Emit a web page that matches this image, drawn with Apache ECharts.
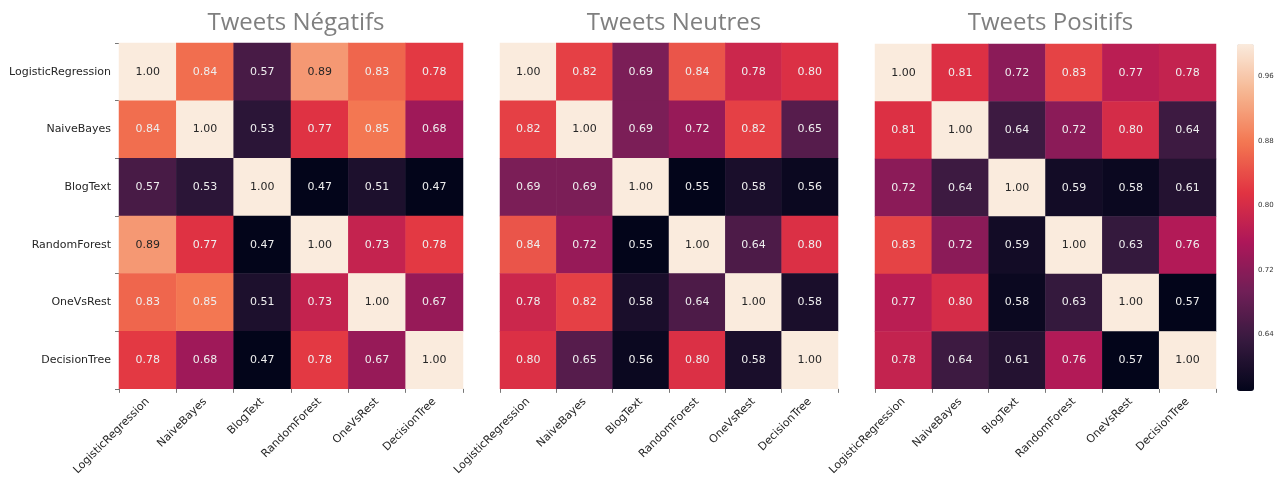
<!DOCTYPE html>
<html>
<head>
<meta charset="utf-8">
<script src="https://cdn.jsdelivr.net/npm/echarts@6/dist/echarts.min.js"></script>
<style>
  html, body { margin: 0; padding: 0; background: #fff; }
  #chart { width: 1277px; height: 478px; }
</style>
</head>
<body>
<div id="chart"></div>
<script>
// modèles comparés (mêmes lignes / colonnes pour les 3 matrices)
const models = ['LogisticRegression', 'NaiveBayes', 'BlogText', 'RandomForest', 'OneVsRest', 'DecisionTree']
const titles = ['Tweets Négatifs', 'Tweets Neutres', 'Tweets Positifs']

const negatifs = [
  [1.00, 0.84, 0.57, 0.89, 0.83, 0.78],
  [0.84, 1.00, 0.53, 0.77, 0.85, 0.68],
  [0.57, 0.53, 1.00, 0.47, 0.51, 0.47],
  [0.89, 0.77, 0.47, 1.00, 0.73, 0.78],
  [0.83, 0.85, 0.51, 0.73, 1.00, 0.67],
  [0.78, 0.68, 0.47, 0.78, 0.67, 1.00]
]
const neutres = [
  [1.00, 0.82, 0.69, 0.84, 0.78, 0.80],
  [0.82, 1.00, 0.69, 0.72, 0.82, 0.65],
  [0.69, 0.69, 1.00, 0.55, 0.58, 0.56],
  [0.84, 0.72, 0.55, 1.00, 0.64, 0.80],
  [0.78, 0.82, 0.58, 0.64, 1.00, 0.58],
  [0.80, 0.65, 0.56, 0.80, 0.58, 1.00]
]
const positifs = [
  [1.00, 0.81, 0.72, 0.83, 0.77, 0.78],
  [0.81, 1.00, 0.64, 0.72, 0.80, 0.64],
  [0.72, 0.64, 1.00, 0.59, 0.58, 0.61],
  [0.83, 0.72, 0.59, 1.00, 0.63, 0.76],
  [0.77, 0.80, 0.58, 0.63, 1.00, 0.57],
  [0.78, 0.64, 0.61, 0.76, 0.57, 1.00]
]
const colorbarTicks = [0.64, 0.72, 0.80, 0.88, 0.96]

// palette "rocket"
const rocket = ['#03051a', '#35193e', '#701f57', '#ad1759', '#e13342', '#f37651', '#f6b48f', '#faebdd']

const matrices = [negatifs, neutres, positifs]
const grids = [
  { left: 119, top: 43, width: 344, height: 349 },
  { left: 500, top: 43, width: 338, height: 347 },
  { left: 875, top: 44, width: 341, height: 347 }
]

const chart = echarts.init(document.getElementById('chart'))

const xAxis = []
const yAxis = []
const series = []
const visualMap = []
const title = []

matrices.forEach((m, i) => {
  const flat = m.flat()
  const min = Math.min(...flat)
  const max = Math.max(...flat)
  const data = []
  m.forEach((row, r) => {
    row.forEach((v, c) => {
      const t = (v - min) / (max - min)
      data.push({
        value: [c, r, v],
        label: { color: t > 0.75 ? '#262626' : '#eeeeee' }
      })
    })
  })
  const g = grids[i]
  title.push({
    text: titles[i],
    left: g.left + g.width / 2,
    top: 6,
    textAlign: 'center',
    textStyle: { fontFamily: 'Open Sans', fontSize: 24, fontWeight: 'normal', color: '#7f7f7f' }
  })
  xAxis.push({
    type: 'category',
    gridIndex: i,
    data: models,
    axisLine: { show: false },
    axisTick: { show: true, length: 4, lineStyle: { color: '#777' } },
    axisLabel: {
      rotate: 45,
      interval: 0,
      margin: 11,
      fontFamily: 'DejaVu Sans',
      fontSize: 11,
      color: '#262626'
    },
    splitLine: { show: false }
  })
  yAxis.push({
    type: 'category',
    gridIndex: i,
    data: models,
    inverse: true,
    axisLine: { show: false },
    axisTick: { show: i === 0, length: 4, lineStyle: { color: '#777' } },
    axisLabel: {
      show: i === 0,
      interval: 0,
      margin: 8,
      fontFamily: 'DejaVu Sans',
      fontSize: 11,
      color: '#262626'
    },
    splitLine: { show: false }
  })
  series.push({
    type: 'heatmap',
    xAxisIndex: i,
    yAxisIndex: i,
    data: data,
    label: {
      show: true,
      fontFamily: 'DejaVu Sans',
      fontSize: 11,
      formatter: p => p.value[2].toFixed(2)
    },
    emphasis: { disabled: true }
  })
  visualMap.push({
    type: 'continuous',
    seriesIndex: i,
    dimension: 2,
    min: min,
    max: max,
    show: i === 2,
    calculable: false,
    orient: 'vertical',
    left: 1237,
    top: 44,
    itemWidth: 17,
    itemHeight: 347,
    padding: 0,
    text: null,
    showLabel: false,
    hoverLink: false,
    inRange: { color: rocket }
  })
})

// axe du colorbar (graduations à droite)
const posMin = Math.min(...positifs.flat())
const posMax = Math.max(...positifs.flat())
grids.push({ left: 1237, top: 44, width: 17, height: 347 })
xAxis.push({ type: 'value', gridIndex: 3, show: false })
yAxis.push({
  type: 'value',
  gridIndex: 3,
  position: 'right',
  min: posMin,
  max: posMax,
  axisLine: { show: false },
  axisTick: { show: true, length: 3, customValues: colorbarTicks, lineStyle: { color: '#555' } },
  axisLabel: {
    customValues: colorbarTicks,
    margin: 4,
    fontFamily: 'DejaVu Sans',
    fontSize: 7,
    color: '#333',
    formatter: v => v.toFixed(2)
  },
  splitLine: { show: false }
})

const option = {
  backgroundColor: '#ffffff',
  animation: false,
  title: title,
  grid: grids,
  xAxis: xAxis,
  yAxis: yAxis,
  visualMap: visualMap,
  series: series
}
chart.setOption(option)
window.addEventListener('resize', () => {
  chart.resize()
})
</script>
</body>
</html>
